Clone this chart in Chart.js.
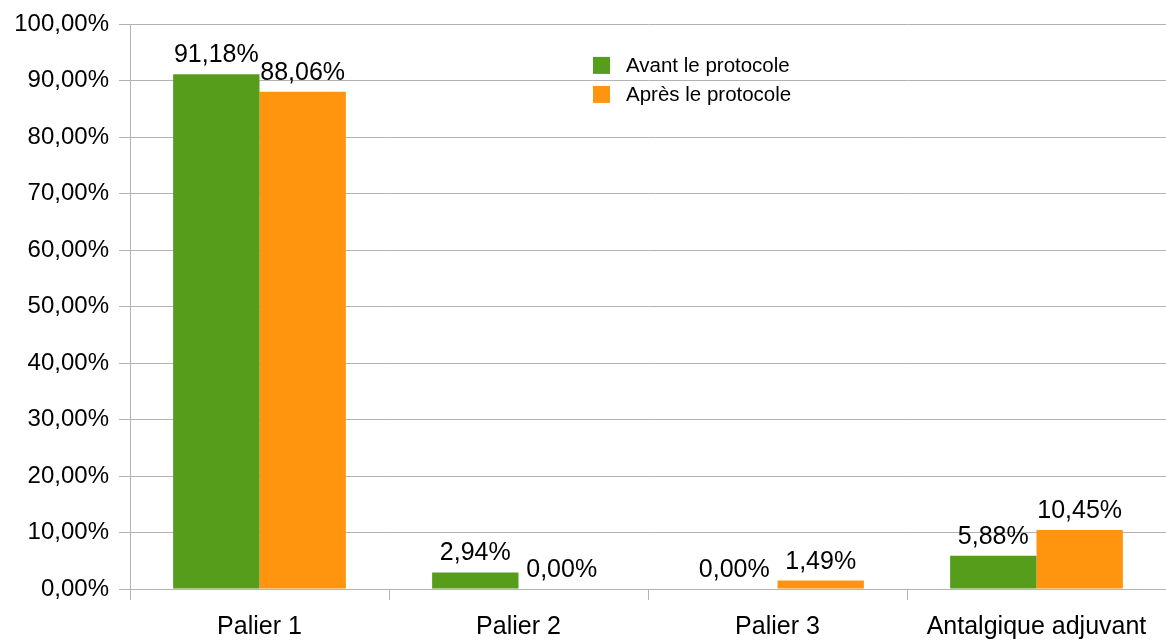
<!DOCTYPE html>
<html>
<head>
<meta charset="utf-8">
<script src="https://cdn.jsdelivr.net/npm/chart.js@4/dist/chart.umd.min.js"></script>
<style>
  html, body { margin: 0; padding: 0; background: #fff; }
  #wrap { width: 1166px; height: 641px; }
</style>
</head>
<body>
<div id="wrap"><canvas id="chart"></canvas></div>
<script>
const categories = ["Palier 1", "Palier 2", "Palier 3", "Antalgique adjuvant"];
const avant = [91.18, 2.94, 0.00, 5.88];
const apres = [88.06, 0.00, 1.49, 10.45];
const seriesNames = ["Avant le protocole", "Après le protocole"];
const colors = ["#579d1c", "#ff950e"];

const FONT = "'Liberation Sans', Arial, sans-serif";
const fmt = v => v.toFixed(2).replace(".", ",") + "%";

// value labels above each bar
const barLabels = {
  id: "barLabels",
  afterDatasetsDraw(chart) {
    const ctx = chart.ctx;
    ctx.save();
    ctx.font = "25px " + FONT;
    ctx.fillStyle = "#000";
    ctx.textAlign = "center";
    ctx.textBaseline = "alphabetic";
    chart.data.datasets.forEach((ds, i) => {
      chart.getDatasetMeta(i).data.forEach((el, j) => {
        ctx.fillText(fmt(ds.data[j]), el.x, el.y - 12);
      });
    });
    ctx.restore();
  }
};

// legend drawn inside the plot, two rows
const innerLegend = {
  id: "innerLegend",
  afterDraw(chart) {
    const ctx = chart.ctx;
    const a = chart.chartArea;
    const x = a.left + 463;
    let y = a.top + 41;
    ctx.save();
    ctx.font = "20.5px " + FONT;
    ctx.textBaseline = "middle";
    chart.data.datasets.forEach(ds => {
      ctx.fillStyle = ds.backgroundColor;
      ctx.fillRect(x, y - 8.5, 17, 17);
      ctx.fillStyle = "#000";
      ctx.fillText(ds.label, x + 33, y + 1);
      y += 29;
    });
    ctx.restore();
  }
};

new Chart(document.getElementById("chart"), {
  type: "bar",
  data: {
    labels: categories,
    datasets: [
      { label: seriesNames[0], data: avant, backgroundColor: colors[0] },
      { label: seriesNames[1], data: apres, backgroundColor: colors[1] }
    ]
  },
  options: {
    responsive: true,
    maintainAspectRatio: false,
    animation: false,
    categoryPercentage: 0.667,
    barPercentage: 1,
    layout: { padding: { top: 23, right: 0, left: 0, bottom: 0 } },
    plugins: {
      legend: { display: false },
      tooltip: { enabled: false }
    },
    scales: {
      x: {
        grid: {
          offset: true,
          drawOnChartArea: false,
          drawTicks: true,
          tickLength: 11,
          color: "#b3b3b3"
        },
        border: { color: "#b3b3b3" },
        ticks: { color: "#000", font: { family: FONT, size: 25 }, padding: 12 },
        afterFit(s) { s.height = 52; }
      },
      y: {
        min: 0,
        max: 100,
        grid: { color: "#b3b3b3", tickLength: 11 },
        border: { color: "#b3b3b3" },
        ticks: {
          stepSize: 10,
          color: "#000",
          font: { family: FONT, size: 24 },
          padding: 10,
          callback: v => fmt(v)
        },
        afterFit(s) { s.width = 130; }
      }
    }
  },
  plugins: [barLabels, innerLegend]
});
</script>
</body>
</html>
